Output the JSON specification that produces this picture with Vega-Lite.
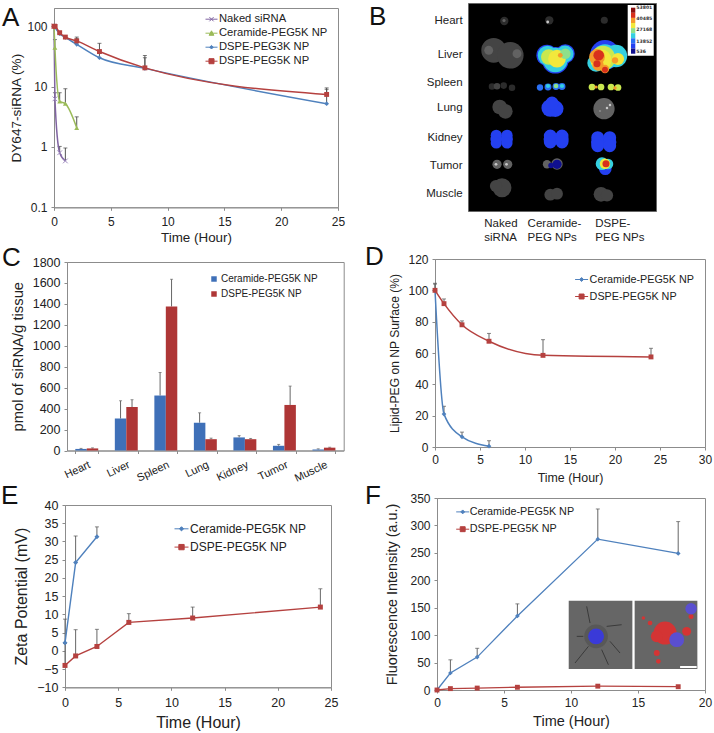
{"$schema":"https://vega.github.io/schema/vega-lite/v6.json","background":"white","padding":0,"spacing":0,"bounds":"flush",
"resolve":{"scale":{"color":"independent","fill":"independent","xOffset":"independent"}},
"config":{"font":"Liberation Sans","view":{"stroke":"#8c8c8c"},"axis":{"grid":false,"labelFlush":false,"labelFont":"Liberation Sans","titleFont":"Liberation Sans","titleFontWeight":"normal","labelColor":"#222","titleColor":"#222","domainColor":"#8c8c8c","tickColor":"#8c8c8c","tickSize":3,"labelFontSize":12,"labelPadding":4,"titleBaseline":"middle"},"legend":{"labelFont":"Liberation Sans","labelColor":"#222"},"title":{"font":"Liberation Sans","fontWeight":"normal","fontSize":26,"anchor":"start","offset":0,"baseline":"alphabetic","frame":"group","color":"#111"}},
"datasets":{"sp":[{"a":1}]},
"hconcat":[
{"spacing":0,"bounds":"flush","resolve":{"scale":{"color":"independent"}},"vconcat":[{"width":1,"height":8,"view":{"stroke":null},"data":{"name":"sp"},"mark":{"type":"point","opacity":0,"size":1,"filled":true,"strokeWidth":0},"encoding":{}},{"spacing":0,"bounds":"flush","resolve":{"scale":{"color":"independent"}},"hconcat":[{"width":54,"height":1,"view":{"stroke":null},"data":{"name":"sp"},"mark":{"type":"point","opacity":0,"size":1,"filled":true,"strokeWidth":0},"encoding":{}},
 {"width":284,"height":199.3,"title":{"text":"A","dx":-52,"dy":26.7},
   "data":{"values":[
    {"t":0,"v":100,"s":"Naked siRNA"},{"t":0.08,"v":6.25,"hi":7.9,"s":"Naked siRNA"},{"t":0.5,"v":0.8,"hi":1.02,"s":"Naked siRNA"},{"t":1,"v":0.586,"hi":0.96,"s":"Naked siRNA"},
    {"t":0,"v":100,"s":"Ceramide-PEG5K NP"},{"t":0.08,"v":44,"hi":60,"s":"Ceramide-PEG5K NP"},{"t":0.5,"v":5.7,"hi":7.9,"s":"Ceramide-PEG5K NP"},{"t":1,"v":5.2,"hi":9.2,"s":"Ceramide-PEG5K NP"},{"t":2,"v":2.07,"hi":3.15,"s":"Ceramide-PEG5K NP"},
    {"t":0,"v":100,"s":"DSPE-PEG3K NP"},{"t":0.5,"v":75,"s":"DSPE-PEG3K NP"},{"t":1,"v":65,"s":"DSPE-PEG3K NP"},{"t":2,"v":50,"hi":62,"s":"DSPE-PEG3K NP"},{"t":4,"v":30,"hi":40,"s":"DSPE-PEG3K NP"},{"t":8,"v":20,"hi":30,"s":"DSPE-PEG3K NP"},{"t":24,"v":5.2,"hi":9,"s":"DSPE-PEG3K NP"},
    {"t":0,"v":100,"s":"DSPE-PEG5K NP"},{"t":0.1,"v":99,"s":"DSPE-PEG5K NP"},{"t":0.5,"v":78,"s":"DSPE-PEG5K NP"},{"t":1,"v":66,"s":"DSPE-PEG5K NP"},{"t":2,"v":57,"hi":66,"s":"DSPE-PEG5K NP"},{"t":4,"v":38,"hi":52,"s":"DSPE-PEG5K NP"},{"t":8,"v":20.4,"hi":32.7,"s":"DSPE-PEG5K NP"},{"t":24,"v":7.4,"hi":9.5,"s":"DSPE-PEG5K NP"}]},
   "encoding":{"x":{"field":"t","type":"quantitative","scale":{"domain":[0,25],"padding":0,"nice":false},"axis":{"values":[0,5,10,15,20,25],"title":"Time (Hour)","titleFontSize":13.4,"titleY":29.7,"labelPadding":6}},
    "y":{"field":"v","type":"quantitative","scale":{"type":"log","domain":[0.1,200],"nice":false},"axis":{"values":[0.1,1,10,100],"format":"~g","title":"DY647-siRNA (%)","titleFontSize":13.6,"titleX":-38}}},
   "layer":[
    {"transform":[{"filter":"datum.hi != null"}],"mark":{"type":"rule","color":"#555","strokeWidth":1},"encoding":{"y2":{"field":"hi"}}},
    {"transform":[{"filter":"datum.hi != null"}],"mark":{"type":"tick","orient":"horizontal","size":4,"thickness":1,"color":"#444"},"encoding":{"y":{"field":"hi","type":"quantitative"}}},
    {"mark":{"type":"line","interpolate":"monotone","strokeWidth":1.5},"encoding":{"color":{"field":"s","type":"nominal","scale":{"domain":["Naked siRNA","Ceramide-PEG5K NP","DSPE-PEG3K NP","DSPE-PEG5K NP"],"range":["#8064a2","#9bbb59","#4f81bd","#b5413f"]},
      "legend":{"title":null,"orient":"none","legendX":151,"legendY":4.7,"labelFontSize":11.2,"symbolSize":144,"rowPadding":2,"labelOffset":1,"encoding":{"symbols":{"shape":{"value":{"expr":"datum.value==='Naked siRNA'?'M-1,0H1M-.35,-.35L.35,.35M-.35,.35L.35,-.35':datum.value==='Ceramide-PEG5K NP'?'M-1,0H1M-.4,.35L0,-.4L.4,.35Z':datum.value==='DSPE-PEG3K NP'?'M-1,0H1M0,-.3L.3,0L0,.3L-.3,0Z':'M-1,0H1M-.42,-.42H.42V.42H-.42Z'"}},"stroke":{"value":{"expr":"datum.value==='Naked siRNA'?'#8064a2':datum.value==='Ceramide-PEG5K NP'?'#9bbb59':datum.value==='DSPE-PEG3K NP'?'#4f81bd':'#b5413f'"}},"fill":{"value":{"expr":"datum.value==='Naked siRNA'?'#8064a2':datum.value==='Ceramide-PEG5K NP'?'#9bbb59':datum.value==='DSPE-PEG3K NP'?'#4f81bd':'#b5413f'"}},"strokeWidth":{"value":1},"opacity":{"value":1}}}}}}},
    {"transform":[{"filter":"datum.s==='Naked siRNA'"}],"mark":{"type":"point","filled":false,"opacity":1,"strokeWidth":1,"shape":"M-1,-1L1,1M-1,1L1,-1","color":"#a08cc0","size":22}},
    {"transform":[{"filter":"datum.s==='Ceramide-PEG5K NP'"}],"mark":{"type":"point","filled":true,"opacity":1,"shape":"triangle-up","color":"#9bbb59","size":24}},
    {"transform":[{"filter":"datum.s==='DSPE-PEG3K NP'"}],"mark":{"type":"point","filled":true,"opacity":1,"shape":"diamond","color":"#4f81bd","size":22}},
    {"transform":[{"filter":"datum.s==='DSPE-PEG5K NP'"}],"mark":{"type":"point","filled":true,"opacity":1,"shape":"square","color":"#b5413f","size":24}}
   ]}]}]},

{"spacing":0,"bounds":"flush","resolve":{"scale":{"color":"independent"}},"vconcat":[{"width":1,"height":3,"view":{"stroke":null},"data":{"name":"sp"},"mark":{"type":"point","opacity":0,"size":1,"filled":true,"strokeWidth":0},"encoding":{}},{"spacing":0,"bounds":"flush","resolve":{"scale":{"color":"independent"}},"hconcat":[{"width":468,"height":1,"view":{"stroke":null},"data":{"name":"sp"},"mark":{"type":"point","opacity":0,"size":1,"filled":true,"strokeWidth":0},"encoding":{}},
 {"width":188,"height":208,"view":{"fill":"#000","stroke":"#666"},"title":{"text":"B","dx":-99,"dy":31},
  "encoding":{"x":{"field":"u","type":"quantitative","scale":{"domain":[0,188],"nice":false,"zero":false,"padding":0},"axis":null},"y":{"field":"v","type":"quantitative","scale":{"domain":[208,0],"nice":false,"zero":false,"padding":0},"axis":null}},
  "layer":[
   {"data":{"values":[
    {"u":36.3,"v":18,"s":69,"k":"g1"},{"u":36,"v":17.5,"s":10,"k":"g3"},
    {"u":25.7,"v":47.3,"s":616,"k":"g2"},{"u":42.3,"v":52.3,"s":707,"k":"g2"},{"u":49,"v":50.7,"s":79,"k":"g3"},{"u":20.7,"v":47.3,"s":79,"k":"g3"},
    {"u":24,"v":83.5,"s":43,"k":"g1"},{"u":29,"v":83.3,"s":43,"k":"g2"},{"u":35.7,"v":82.6,"s":43,"k":"g1"},{"u":44,"v":84.7,"s":43,"k":"g1"},
    {"u":31.7,"v":104,"s":216,"k":"g2"},{"u":37.3,"v":108.3,"s":216,"k":"g2"},
    {"u":28.3,"v":132.3,"s":125,"k":"b"},{"u":28.3,"v":136,"s":140,"k":"b"},{"u":28.3,"v":140,"s":125,"k":"b"},{"u":39,"v":132.3,"s":125,"k":"b"},{"u":39,"v":136,"s":140,"k":"b"},{"u":39,"v":140,"s":125,"k":"b"},
    {"u":29,"v":161.3,"s":85,"k":"g3"},{"u":39.7,"v":161.3,"s":85,"k":"g3"},{"u":28,"v":161.3,"s":8,"k":"g5"},{"u":38.5,"v":161.3,"s":8,"k":"g5"},
    {"u":34,"v":184.7,"s":358,"k":"g2"},{"u":28,"v":183,"s":150,"k":"g2"},
    {"u":81.3,"v":17.3,"s":69,"k":"g1"},{"u":79.7,"v":19,"s":8,"k":"g5"},
    {"u":79,"v":52.3,"s":452,"k":"b"},{"u":87.3,"v":57.3,"s":707,"k":"b"},{"u":97.3,"v":50.7,"s":358,"k":"b"},
    {"u":79.5,"v":52.5,"s":380,"k":"c"},{"u":87.3,"v":57,"s":600,"k":"c"},{"u":97,"v":51,"s":290,"k":"c"},
    {"u":80.7,"v":54,"s":236,"k":"yg"},{"u":89,"v":55.7,"s":314,"k":"y"},{"u":97.3,"v":50.7,"s":113,"k":"gn"},{"u":92.3,"v":52.3,"s":23,"k":"o"},
    {"u":72,"v":84.5,"s":40,"k":"lb"},{"u":80,"v":84,"s":48,"k":"lb"},{"u":88,"v":83.5,"s":48,"k":"lb"},{"u":94,"v":83.5,"s":48,"k":"lb"},{"u":80,"v":83,"s":18,"k":"c"},{"u":88,"v":83,"s":22,"k":"gn"},{"u":94,"v":83,"s":18,"k":"c"},
    {"u":82.3,"v":105,"s":314,"k":"b"},{"u":87.3,"v":105.7,"s":270,"k":"b"},{"u":84,"v":100,"s":170,"k":"b"},
    {"u":82.3,"v":133,"s":168,"k":"b"},{"u":82.3,"v":136,"s":180,"k":"b"},{"u":82.3,"v":139,"s":168,"k":"b"},{"u":94,"v":133,"s":168,"k":"b"},{"u":94,"v":136,"s":180,"k":"b"},{"u":94,"v":139,"s":168,"k":"b"},
    {"u":79,"v":161.3,"s":70,"k":"g3"},{"u":89,"v":161,"s":130,"k":"g3"},{"u":89,"v":161.3,"s":85,"k":"navy"},{"u":83,"v":162.5,"s":30,"k":"navy"},
    {"u":82.3,"v":191.7,"s":140,"k":"g2"},{"u":89,"v":190.7,"s":140,"k":"g2"},
    {"u":136.3,"v":17.3,"s":50,"k":"g1"},
    {"u":137,"v":52,"s":900,"k":"b"},{"u":128,"v":60,"s":300,"k":"c"},{"u":148,"v":53,"s":500,"k":"c"},{"u":137,"v":54,"s":640,"k":"c"},
    {"u":135,"v":55,"s":600,"k":"yg"},{"u":150,"v":56,"s":150,"k":"y"},{"u":133,"v":57,"s":450,"k":"y"},
    {"u":129,"v":54,"s":250,"k":"o"},{"u":130,"v":62,"s":130,"k":"o"},{"u":137,"v":66,"s":70,"k":"o"},{"u":147,"v":57.3,"s":40,"k":"o"},
    {"u":130.7,"v":52.3,"s":113,"k":"r"},{"u":129,"v":60.7,"s":50,"k":"r"},{"u":137,"v":66.7,"s":35,"k":"r"},
    {"u":124,"v":84,"s":45,"k":"yg"},{"u":133,"v":84,"s":45,"k":"yg"},{"u":143,"v":84,"s":45,"k":"yg"},{"u":150,"v":84.5,"s":45,"k":"yg"},{"u":128,"v":84,"s":10,"k":"o"},{"u":147,"v":85,"s":12,"k":"o"},
    {"u":136,"v":105.7,"s":452,"k":"g3"},{"u":139,"v":105,"s":6,"k":"g5"},{"u":142,"v":102,"s":6,"k":"g5"},{"u":132,"v":108,"s":5,"k":"g4"},
    {"u":129.7,"v":134.7,"s":168,"k":"b"},{"u":129.7,"v":139,"s":180,"k":"b"},{"u":129.7,"v":142.7,"s":168,"k":"b"},{"u":141.7,"v":134.7,"s":168,"k":"b"},{"u":141.7,"v":139,"s":180,"k":"b"},{"u":141.7,"v":142.7,"s":168,"k":"b"},
    {"u":137.3,"v":165.7,"s":160,"k":"b"},{"u":134,"v":160.7,"s":160,"k":"c"},{"u":140,"v":161,"s":110,"k":"c"},{"u":137,"v":160.7,"s":110,"k":"y"},{"u":138,"v":160.7,"s":50,"k":"r"},
    {"u":133,"v":191.3,"s":216,"k":"g2"},{"u":139,"v":192.3,"s":150,"k":"g2"}]},
    "mark":{"type":"point","filled":true,"opacity":1,"shape":"circle"},
    "encoding":{"size":{"field":"s","type":"quantitative","scale":null},
     "color":{"field":"k","type":"nominal","legend":null,"scale":{"domain":["g1","g2","g3","g4","g5","navy","b","lb","c","gn","yg","y","o","r","dr","w"],"range":["#2c2c2c","#444444","#626262","#8a8a8a","#c8c8c8","#10108f","#2440f0","#2a70f5","#35d0e0","#8ee08a","#c9e84f","#f2e83c","#f59a2a","#d8301c","#8c1010","#ffffff"]}}}},
   {"data":{"values":[
    {"u":159.7,"u2":185.7,"v":2,"v2":52.7,"k":"w"},
    {"u":163,"u2":167.3,"v":4.7,"v2":9.8,"k":"dr"},{"u":163,"u2":167.3,"v":9.8,"v2":14.9,"k":"r"},{"u":163,"u2":167.3,"v":14.9,"v2":20,"k":"o"},{"u":163,"u2":167.3,"v":20,"v2":25.1,"k":"y"},{"u":163,"u2":167.3,"v":25.1,"v2":30.2,"k":"gn"},{"u":163,"u2":167.3,"v":30.2,"v2":35.3,"k":"c"},{"u":163,"u2":167.3,"v":35.3,"v2":40.4,"k":"lb"},{"u":163,"u2":167.3,"v":40.4,"v2":45.5,"k":"b"},{"u":163,"u2":167.3,"v":45.5,"v2":50.7,"k":"navy"}]},
    "mark":{"type":"rect"},"encoding":{"x2":{"field":"u2"},"y2":{"field":"v2"},"color":{"field":"k","type":"nominal"}}},
   {"data":{"values":[{"u":168.3,"v":5.3,"t":"53801"},{"u":168.3,"v":16.3,"t":"40485"},{"u":168.3,"v":27.3,"t":"27168"},{"u":168.3,"v":38.7,"t":"13852"},{"u":168.3,"v":49.3,"t":"536"}]},
    "mark":{"type":"text","align":"left","baseline":"middle","font":"DejaVu Sans","fontSize":4.6,"fontWeight":"bold","color":"#333"},"encoding":{"text":{"field":"t"}}},
   {"data":{"values":[{"u":-5.4,"v":18.3,"t":"Heart"},{"u":-5.4,"v":51.6,"t":"Liver"},{"u":-5.4,"v":79.6,"t":"Spleen"},{"u":-5.4,"v":104.6,"t":"Lung"},{"u":-5.4,"v":135,"t":"Kidney"},{"u":-5.4,"v":162.6,"t":"Tumor"},{"u":-5.4,"v":191,"t":"Muscle"}]},
    "mark":{"type":"text","align":"right","baseline":"middle","fontSize":11.5,"color":"#222"},"encoding":{"text":{"field":"t"}}},
   {"data":{"values":[{"u":16.3,"v":220.6,"t":"Naked"},{"u":16.3,"v":234.6,"t":"siRNA"},{"u":59.6,"v":220.6,"t":"Ceramide-"},{"u":59.6,"v":234.6,"t":"PEG NPs"},{"u":127.3,"v":220.6,"t":"DSPE-"},{"u":127.3,"v":234.6,"t":"PEG NPs"}]},
    "mark":{"type":"text","align":"left","baseline":"middle","fontSize":11.5,"color":"#222"},"encoding":{"text":{"field":"t"}}}
  ]}]}]},

{"spacing":0,"bounds":"flush","resolve":{"scale":{"color":"independent"}},"vconcat":[{"width":1,"height":262,"view":{"stroke":null},"data":{"name":"sp"},"mark":{"type":"point","opacity":0,"size":1,"filled":true,"strokeWidth":0},"encoding":{}},{"spacing":0,"bounds":"flush","resolve":{"scale":{"color":"independent"}},"hconcat":[{"width":67,"height":1,"view":{"stroke":null},"data":{"name":"sp"},"mark":{"type":"point","opacity":0,"size":1,"filled":true,"strokeWidth":0},"encoding":{}},
 {"width":276.7,"height":188.5,"title":{"text":"C","dx":-65,"dy":19},
   "data":{"values":[
    {"o":"Heart","s":"Ceramide-PEG5K NP","v":15,"hi":20},{"o":"Heart","s":"DSPE-PEG5K NP","v":20,"hi":25},
    {"o":"Liver","s":"Ceramide-PEG5K NP","v":305,"hi":475},{"o":"Liver","s":"DSPE-PEG5K NP","v":415,"hi":485},
    {"o":"Spleen","s":"Ceramide-PEG5K NP","v":525,"hi":745},{"o":"Spleen","s":"DSPE-PEG5K NP","v":1375,"hi":1635},
    {"o":"Lung","s":"Ceramide-PEG5K NP","v":265,"hi":360},{"o":"Lung","s":"DSPE-PEG5K NP","v":108,"hi":118},
    {"o":"Kidney","s":"Ceramide-PEG5K NP","v":125,"hi":142},{"o":"Kidney","s":"DSPE-PEG5K NP","v":108,"hi":115},
    {"o":"Tumor","s":"Ceramide-PEG5K NP","v":45,"hi":58},{"o":"Tumor","s":"DSPE-PEG5K NP","v":435,"hi":615},
    {"o":"Muscle","s":"Ceramide-PEG5K NP","v":10,"hi":16},{"o":"Muscle","s":"DSPE-PEG5K NP","v":27,"hi":31}]},
   "encoding":{"x":{"field":"o","type":"nominal","sort":null,"scale":{"paddingInner":0.42,"paddingOuter":0.21},"axis":{"title":null,"labelAngle":-25,"labelAlign":"right","labelBaseline":"top","labelFontSize":11,"tickBand":"extent","labelPadding":5}},
    "xOffset":{"field":"s","type":"nominal","sort":null},
    "y":{"field":"v","type":"quantitative","scale":{"domain":[0,1800],"nice":false},"axis":{"values":[0,200,400,600,800,1000,1200,1400,1600,1800],"format":"d","title":"pmol of siRNA/g tissue","titleFontSize":14.8,"titleX":-48.7,"labelFontSize":12.5}}},
   "layer":[
    {"mark":{"type":"rule","color":"#666","strokeWidth":1},"encoding":{"y2":{"field":"hi"}}},
    {"mark":{"type":"tick","orient":"horizontal","size":3,"thickness":1,"color":"#666"},"encoding":{"y":{"field":"hi","type":"quantitative"}}},
    {"mark":{"type":"bar"},"encoding":{"color":{"field":"s","type":"nominal","scale":{"domain":["Ceramide-PEG5K NP","DSPE-PEG5K NP"],"range":["#3f70b8","#ae3636"]},"legend":{"title":null,"orient":"none","legendX":142,"legendY":12,"labelFontSize":10,"symbolType":"square","symbolSize":30,"rowPadding":5,"labelOffset":2}}}}
   ]}]}]},

{"spacing":0,"bounds":"flush","resolve":{"scale":{"color":"independent"}},"vconcat":[{"width":1,"height":259,"view":{"stroke":null},"data":{"name":"sp"},"mark":{"type":"point","opacity":0,"size":1,"filled":true,"strokeWidth":0},"encoding":{}},{"spacing":0,"bounds":"flush","resolve":{"scale":{"color":"independent"}},"hconcat":[{"width":435,"height":1,"view":{"stroke":null},"data":{"name":"sp"},"mark":{"type":"point","opacity":0,"size":1,"filled":true,"strokeWidth":0},"encoding":{}},
 {"width":270,"height":188,"title":{"text":"D","dx":-70,"dy":21},
  "data":{"values":[
   {"t":0,"v":100,"hi":104,"s":"Ceramide-PEG5K NP"},{"t":1,"v":21,"hi":26,"s":"Ceramide-PEG5K NP"},{"t":3,"v":6.5,"hi":9.5,"s":"Ceramide-PEG5K NP"},{"t":6,"v":0.5,"hi":4,"s":"Ceramide-PEG5K NP"},
   {"t":0,"v":100,"hi":104.5,"s":"DSPE-PEG5K NP"},{"t":1,"v":91.5,"hi":94.5,"s":"DSPE-PEG5K NP"},{"t":3,"v":78,"hi":80.5,"s":"DSPE-PEG5K NP"},{"t":6,"v":67.5,"hi":72.5,"s":"DSPE-PEG5K NP"},{"t":12,"v":58.5,"hi":68.5,"s":"DSPE-PEG5K NP"},{"t":24,"v":57.5,"hi":63,"s":"DSPE-PEG5K NP"}]},
  "encoding":{"x":{"field":"t","type":"quantitative","scale":{"domain":[0,30],"padding":0,"nice":false},"axis":{"values":[0,5,10,15,20,25,30],"title":"Time (Hour)","titleFontSize":12.4,"titleY":30}},
   "y":{"field":"v","type":"quantitative","scale":{"domain":[0,120],"nice":false},"axis":{"values":[0,20,40,60,80,100,120],"title":"Lipid-PEG on NP Surface (%)","titleFontSize":12.1,"titleX":-40.4}}},
  "layer":[
   {"mark":{"type":"rule","color":"#666","strokeWidth":1},"encoding":{"y2":{"field":"hi"}}},
   {"mark":{"type":"tick","orient":"horizontal","size":4,"thickness":1,"color":"#555"},"encoding":{"y":{"field":"hi","type":"quantitative"}}},
   {"mark":{"type":"line","interpolate":"monotone","strokeWidth":1.5},"encoding":{"color":{"field":"s","type":"nominal","scale":{"domain":["Ceramide-PEG5K NP","DSPE-PEG5K NP"],"range":["#4f81bd","#b5413f"]},
     "legend":{"title":null,"orient":"none","legendX":139.6,"legendY":13.5,"labelFontSize":10.8,"symbolSize":169,"rowPadding":5,"labelOffset":1,"encoding":{"symbols":{"shape":{"value":{"expr":"datum.value==='Ceramide-PEG5K NP'?'M-1,0H1M0,-.3L.3,0L0,.3L-.3,0Z':'M-1,0H1M-.38,-.38H.38V.38H-.38Z'"}},"stroke":{"value":{"expr":"datum.value==='Ceramide-PEG5K NP'?'#4f81bd':'#b5413f'"}},"fill":{"value":{"expr":"datum.value==='Ceramide-PEG5K NP'?'#4f81bd':'#b5413f'"}},"strokeWidth":{"value":1},"opacity":{"value":1}}}}}}},
   {"transform":[{"filter":"datum.s==='Ceramide-PEG5K NP'"}],"mark":{"type":"point","filled":true,"opacity":1,"shape":"diamond","color":"#4f81bd","size":22}},
   {"transform":[{"filter":"datum.s==='DSPE-PEG5K NP'"}],"mark":{"type":"point","filled":true,"opacity":1,"shape":"square","color":"#b5413f","size":24}}
  ]}]}]},

{"spacing":0,"bounds":"flush","resolve":{"scale":{"color":"independent"}},"vconcat":[{"width":1,"height":505,"view":{"stroke":null},"data":{"name":"sp"},"mark":{"type":"point","opacity":0,"size":1,"filled":true,"strokeWidth":0},"encoding":{}},{"spacing":0,"bounds":"flush","resolve":{"scale":{"color":"independent"}},"hconcat":[{"width":65,"height":1,"view":{"stroke":null},"data":{"name":"sp"},"mark":{"type":"point","opacity":0,"size":1,"filled":true,"strokeWidth":0},"encoding":{}},
 {"width":266,"height":182.3,"title":{"text":"E","dx":-64,"dy":14},
   "data":{"values":[
    {"t":0,"v":2.2,"hi":8.7,"s":"Ceramide-PEG5K NP"},{"t":1,"v":24.2,"hi":31.5,"s":"Ceramide-PEG5K NP"},{"t":3,"v":31.3,"hi":34,"s":"Ceramide-PEG5K NP"},
    {"t":0,"v":-4,"hi":2,"s":"DSPE-PEG5K NP"},{"t":1,"v":-1.4,"hi":5.8,"s":"DSPE-PEG5K NP"},{"t":3,"v":1.2,"hi":5.9,"s":"DSPE-PEG5K NP"},{"t":6,"v":7.8,"hi":10.2,"s":"DSPE-PEG5K NP"},{"t":12,"v":9,"hi":12,"s":"DSPE-PEG5K NP"},{"t":24,"v":12,"hi":17,"s":"DSPE-PEG5K NP"}]},
   "encoding":{"x":{"field":"t","type":"quantitative","scale":{"domain":[0,25],"padding":0,"nice":false},"axis":{"values":[0,5,10,15,20,25],"title":"Time (Hour)","titleFontSize":16,"titleY":34.7,"labelFontSize":12.5,"labelPadding":6}},
    "y":{"field":"v","type":"quantitative","scale":{"domain":[-10,40],"nice":false},"axis":{"values":[-10,-5,0,5,10,15,20,25,30,35,40],"format":"d","title":"Zeta Potential (mV)","titleFontSize":16,"titleX":-43.3,"labelFontSize":12.5}}},
   "layer":[
    {"mark":{"type":"rule","color":"#666","strokeWidth":1},"encoding":{"y2":{"field":"hi"}}},
    {"mark":{"type":"tick","orient":"horizontal","size":4,"thickness":1,"color":"#555"},"encoding":{"y":{"field":"hi","type":"quantitative"}}},
    {"mark":{"type":"line","strokeWidth":1.4},"encoding":{"color":{"field":"s","type":"nominal","scale":{"domain":["Ceramide-PEG5K NP","DSPE-PEG5K NP"],"range":["#4f81bd","#b5413f"]},
      "legend":{"title":null,"orient":"none","legendX":109,"legendY":16.3,"labelFontSize":12,"symbolSize":196,"rowPadding":4.3,"labelOffset":1,"encoding":{"symbols":{"shape":{"value":{"expr":"datum.value==='Ceramide-PEG5K NP'?'M-1,0H1M0,-.3L.3,0L0,.3L-.3,0Z':'M-1,0H1M-.38,-.38H.38V.38H-.38Z'"}},"stroke":{"value":{"expr":"datum.value==='Ceramide-PEG5K NP'?'#4f81bd':'#b5413f'"}},"fill":{"value":{"expr":"datum.value==='Ceramide-PEG5K NP'?'#4f81bd':'#b5413f'"}},"strokeWidth":{"value":1},"opacity":{"value":1}}}}}}},
    {"transform":[{"filter":"datum.s==='Ceramide-PEG5K NP'"}],"mark":{"type":"point","filled":true,"opacity":1,"shape":"diamond","color":"#4f81bd","size":25}},
    {"transform":[{"filter":"datum.s==='DSPE-PEG5K NP'"}],"mark":{"type":"point","filled":true,"opacity":1,"shape":"square","color":"#b5413f","size":25}}
   ]}]}]},

{"spacing":0,"bounds":"flush","resolve":{"scale":{"color":"independent","fill":"independent"}},"vconcat":[{"width":1,"height":498,"view":{"stroke":null},"data":{"name":"sp"},"mark":{"type":"point","opacity":0,"size":1,"filled":true,"strokeWidth":0},"encoding":{}},{"spacing":0,"bounds":"flush","resolve":{"scale":{"color":"independent","fill":"independent"}},"hconcat":[{"width":437,"height":1,"view":{"stroke":null},"data":{"name":"sp"},"mark":{"type":"point","opacity":0,"size":1,"filled":true,"strokeWidth":0},"encoding":{}},
 {"width":268,"height":192,"title":{"text":"F","dx":-72,"dy":21},
  "data":{"values":[
   {"t":0,"v":0,"s":"Ceramide-PEG5K NP"},{"t":1,"v":31,"hi":55,"s":"Ceramide-PEG5K NP"},{"t":3,"v":60,"hi":76,"s":"Ceramide-PEG5K NP"},{"t":6,"v":135,"hi":157,"s":"Ceramide-PEG5K NP"},{"t":12,"v":275,"hi":330,"s":"Ceramide-PEG5K NP"},{"t":18,"v":249,"hi":307,"s":"Ceramide-PEG5K NP"},
   {"t":0,"v":0,"s":"DSPE-PEG5K NP"},{"t":1,"v":2.5,"s":"DSPE-PEG5K NP"},{"t":3,"v":3.5,"s":"DSPE-PEG5K NP"},{"t":6,"v":5,"s":"DSPE-PEG5K NP"},{"t":12,"v":7,"s":"DSPE-PEG5K NP"},{"t":18,"v":6,"s":"DSPE-PEG5K NP"}]},
  "encoding":{"x":{"field":"t","type":"quantitative","scale":{"domain":[0,20],"padding":0,"nice":false},"axis":{"values":[0,5,10,15,20],"title":"Time (Hour)","titleFontSize":14.5,"titleY":31.4}},
   "y":{"field":"v","type":"quantitative","scale":{"domain":[0,350],"nice":false},"axis":{"values":[0,50,100,150,200,250,300,350],"title":"Fluorescence Intensity (a.u.)","titleFontSize":14.4,"titleX":-44.6}}},
  "layer":[
   {"transform":[{"filter":"datum.hi != null"}],"mark":{"type":"rule","color":"#666","strokeWidth":1},"encoding":{"y2":{"field":"hi"}}},
   {"transform":[{"filter":"datum.hi != null"}],"mark":{"type":"tick","orient":"horizontal","size":4,"thickness":1,"color":"#555"},"encoding":{"y":{"field":"hi","type":"quantitative"}}},
   {"mark":{"type":"line","strokeWidth":1.3},"encoding":{"color":{"field":"s","type":"nominal","scale":{"domain":["Ceramide-PEG5K NP","DSPE-PEG5K NP"],"range":["#4f81bd","#b5413f"]},
     "legend":{"title":null,"orient":"none","legendX":18.7,"legendY":6.9,"labelFontSize":10.8,"symbolSize":169,"rowPadding":5.3,"labelOffset":0,"encoding":{"symbols":{"shape":{"value":{"expr":"datum.value==='Ceramide-PEG5K NP'?'M-1,0H1M0,-.3L.3,0L0,.3L-.3,0Z':'M-1,0H1M-.38,-.38H.38V.38H-.38Z'"}},"stroke":{"value":{"expr":"datum.value==='Ceramide-PEG5K NP'?'#4f81bd':'#b5413f'"}},"fill":{"value":{"expr":"datum.value==='Ceramide-PEG5K NP'?'#4f81bd':'#b5413f'"}},"strokeWidth":{"value":1},"opacity":{"value":1}}}}}}},
   {"transform":[{"filter":"datum.s==='Ceramide-PEG5K NP'"}],"mark":{"type":"point","filled":true,"opacity":1,"shape":"diamond","color":"#4f81bd","size":22}},
   {"transform":[{"filter":"datum.s==='DSPE-PEG5K NP'"}],"mark":{"type":"point","filled":true,"opacity":1,"shape":"square","color":"#b5413f","size":24}},
   {"data":{"values":[{"t":9.83,"t2":14.58,"v":162.8,"v2":38.3},{"t":14.75,"t2":19.43,"v":162.8,"v2":38.3}]},"mark":{"type":"rect","color":"#666666"},"encoding":{"x2":{"field":"t2"},"y2":{"field":"v2"}}},
   {"data":{"values":[
     {"t":11.42,"v":122.1,"t2":11.17,"v2":152.5},{"t":12.66,"v":116,"t2":13.78,"v2":119},{"t":12.91,"v":88.7,"t2":13.66,"v2":67.4},{"t":12.29,"v":73.5,"t2":12.79,"v2":46.1},{"t":11.3,"v":79.5,"t2":10.3,"v2":49.2},{"t":10.92,"v":97.8,"t2":10.43,"v2":97.8}]},
    "mark":{"type":"rule","color":"#3a3a3a","strokeWidth":1},"encoding":{"x2":{"field":"t2"},"y2":{"field":"v2"}}},
   {"data":{"values":[
     {"t":11.87,"v":97.8,"s":560,"k":"halo"},{"t":11.87,"v":97.8,"s":254,"k":"nuc"},
     {"t":17.02,"v":103.8,"s":530,"k":"red"},{"t":16.4,"v":97.8,"s":140,"k":"red"},{"t":15.9,"v":122.1,"s":22,"k":"red"},{"t":15.4,"v":131.2,"s":12,"k":"red"},{"t":16.4,"v":67.4,"s":35,"k":"red"},{"t":16.52,"v":52.2,"s":22,"k":"red"},{"t":18.63,"v":106.9,"s":80,"k":"red"},{"t":18.96,"v":134.2,"s":25,"k":"red"},
     {"t":17.89,"v":91.7,"s":220,"k":"nuc2"},{"t":18.96,"v":148,"s":130,"k":"nuc2"}]},
    "mark":{"type":"point","shape":"circle","filled":true,"opacity":1},
    "encoding":{"fill":{"field":"k","type":"nominal","legend":null,"scale":{"domain":["halo","nuc","red","nuc2"],"range":["#585858","#3a3ad8","#d43434","#5a4fd0"]}},"size":{"field":"s","type":"quantitative","scale":null}}},
   {"data":{"values":[{"t":18.14,"t2":19.38,"v":41.9}]},"mark":{"type":"rule","color":"#fff","strokeWidth":2},"encoding":{"x2":{"field":"t2"}}}
  ]}]}]}
]}
